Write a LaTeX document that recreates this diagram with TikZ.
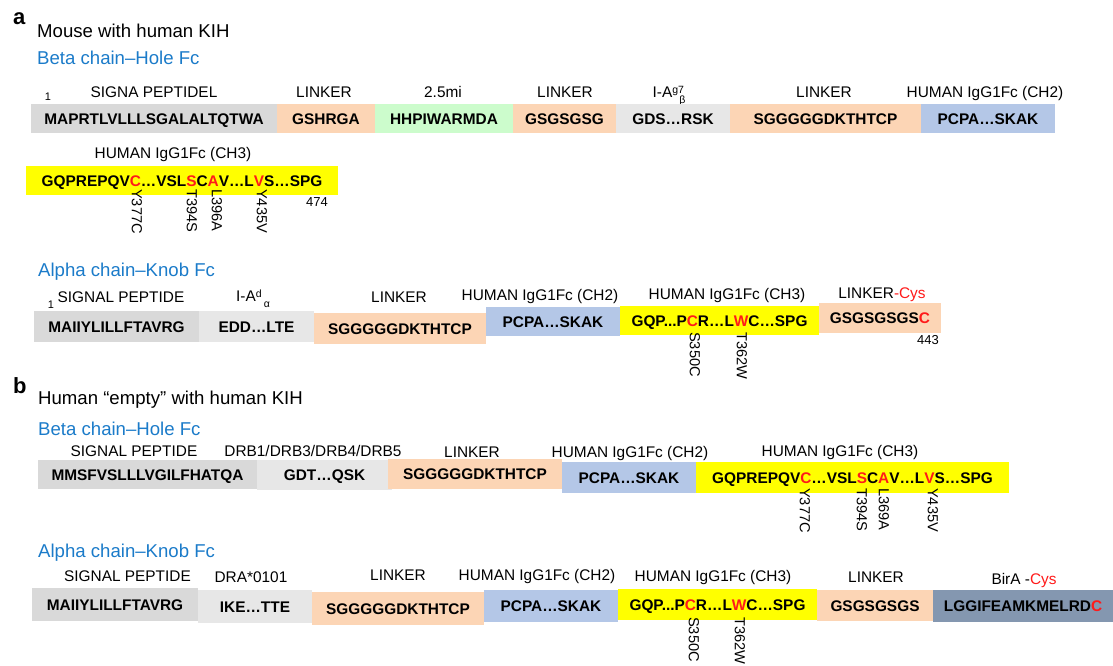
\documentclass[tikz,border=0pt]{standalone}
\usepackage{fontspec}
\setmainfont{Liberation Sans}

\definecolor{sigA}{HTML}{D9D9D9}
\definecolor{sigB}{HTML}{E7E7E7}
\definecolor{peach}{HTML}{FCD5B5}
\definecolor{mint}{HTML}{CCFCCC}
\definecolor{fcblue}{HTML}{B4C7E7}
\definecolor{fcyellow}{HTML}{FFFF00}
\definecolor{slate}{HTML}{8497B0}
\definecolor{titleblue}{HTML}{1B7BC9}
\definecolor{mut}{HTML}{FF1A1A}

\newcommand\segfont{\fontsize{15.4}{18}\selectfont\bfseries}
\newcommand\lblfont{\fontsize{15.4}{18}\selectfont}
\newcommand\ttlfont{\fontsize{18.6}{22}\selectfont}
\newcommand\mutfont{\fontsize{14.6}{17}\selectfont}
\newcommand\numfont{\fontsize{13}{15}\selectfont}
\newcommand\onefont{\fontsize{11}{13}\selectfont}
\newcommand\panelfont{\fontsize{22}{26}\selectfont\bfseries}
\newcommand\rd[1]{\textcolor{mut}{#1}}
% superscript/subscript pair after an allele name; #3 shifts the subscript
\newcommand\supsub[3]{\rlap{\raisebox{4pt}{\fontsize{10.5}{10.5}\selectfont #1}}\raisebox{-6pt}{\hspace{#3}\fontsize{10.5}{10.5}\selectfont #2}}
% one coloured sequence segment: name, colour, x1, x2, top, bottom, text
\newcommand\seg[7]{\node[seg, fill=#2, minimum width={#4-#3}, minimum height={#6-#5}, anchor=north west] (#1) at (#3,#5) {#7};}

\begin{document}
\begin{tikzpicture}[x=1pt,y=-1pt,
  seg/.style={inner sep=0pt, outer sep=0pt, text height=11pt, text depth=0pt, font=\segfont},
  lbl/.style={inner sep=0pt, anchor=base, font=\lblfont},
  ttl/.style={inner sep=0pt, anchor=base west, font=\ttlfont},
  chain/.style={ttl, text=titleblue},
  mutl/.style={inner sep=0pt, rotate=-90, anchor=west, font=\mutfont},
  num/.style={inner sep=0pt, anchor=base, font=\numfont},
  one/.style={inner sep=0pt, anchor=base, font=\onefont},
  panel/.style={inner sep=0pt, anchor=base west, font=\panelfont}]
\useasboundingbox (0,0) rectangle (1113,665);

% ---------- panel a ----------
\node[panel] (pa) at (13,24) {a};
\node[ttl] (ta) at (37,37) {Mouse with human KIH};
\node[chain] (ca1) at (37,64.5) {Beta chain–Hole Fc};

% beta chain, first line
\node[one] (a1one) at (48,100) {1};
\node[lbl] (a1l1) at (154,97) {SIGNA PEPTIDEL};
\node[lbl] (a1l2) at (324,97) {LINKER};
\node[lbl] (a1l3) at (443,97) {2.5mi};
\node[lbl] (a1l4) at (565,97) {LINKER};
\node[lbl] (a1l5) at (669,97) {I-A\supsub{g7}{β}{7pt}};
\node[lbl] (a1l6) at (824,97) {LINKER};
\node[lbl] (a1l7) at (985,97) {HUMAN IgG1Fc (CH2)};

\seg{a1s1}{sigA}{31}{277}{104}{133}{MAPRTLVLLLSGALALTQTWA}
\seg{a1s2}{peach}{277}{375}{104}{133}{GSHRGA}
\seg{a1s3}{mint}{375}{513}{104}{133}{HHPIWARMDA}
\seg{a1s4}{peach}{513}{616}{104}{133}{GSGSGSG}
\seg{a1s5}{sigB}{616}{730}{104}{133}{GDS…RSK}
\seg{a1s6}{peach}{730}{921}{104}{133}{SGGGGGDKTHTCP}
\seg{a1s7}{fcblue}{921}{1055}{104}{133}{PCPA…SKAK}

% beta chain, second line
\node[lbl] (a2l1) at (173,158) {HUMAN IgG1Fc (CH3)};
\seg{a2s1}{fcyellow}{26}{338}{166}{195}{GQPREPQV\rd{C}…VSL\rd{S}C\rd{A}V…L\rd{V}S…SPG}
\node[mutl] (a2m1) at (137,189) {Y377C};
\node[mutl] (a2m2) at (192,189) {T394S};
\node[mutl] (a2m3) at (217,189) {L396A};
\node[mutl] (a2m4) at (262,189) {Y435V};
\node[num] (a2n) at (317,206) {474};

% alpha chain
\node[chain] (ca2) at (38,276) {Alpha chain–Knob Fc};
\node[one] (a3one) at (51,308) {1};
\node[lbl] (a3l1) at (121,302) {SIGNAL PEPTIDE};
\node[lbl] (a3l2) at (253,301) {I-A\supsub{d}{α}{8pt}};
\node[lbl] (a3l3) at (399,302) {LINKER};
\node[lbl] (a3l4) at (540,300) {HUMAN IgG1Fc (CH2)};
\node[lbl] (a3l5) at (727,299) {HUMAN IgG1Fc (CH3)};
\node[lbl] (a3l6) at (882,298) {LINKER\rd{-Cys}};

\seg{a3s1}{sigA}{34}{199}{311}{342}{MAIIYLILLFTAVRG}
\seg{a3s2}{sigB}{199}{314}{311}{342}{EDD…LTE}
\seg{a3s3}{peach}{314}{486}{313}{344}{SGGGGGDKTHTCP}
\seg{a3s4}{fcblue}{486}{620}{307}{336}{PCPA…SKAK}
\seg{a3s5}{fcyellow}{620}{819}{306}{335}{GQP...P\rd{C}R…L\rd{W}C…SPG}
\seg{a3s6}{peach}{819}{941}{303}{333}{GSGSGSGS\rd{C}}
\node[mutl] (a3m1) at (695,332) {S350C};
\node[mutl] (a3m2) at (742,332) {T362W};
\node[num] (a3n) at (928,344) {443};

% ---------- panel b ----------
\node[panel] (pb) at (13,393) {b};
\node[ttl] (tb) at (38,404) {Human “empty” with human KIH};
\node[chain] (cb1) at (38,435) {Beta chain–Hole Fc};

% beta chain
\node[lbl] (b1l1) at (134,456) {SIGNAL PEPTIDE};
\node[lbl] (b1l2) at (313,456) {DRB1/DRB3/DRB4/DRB5};
\node[lbl] (b1l3) at (472,457) {LINKER};
\node[lbl] (b1l4) at (630,457) {HUMAN IgG1Fc (CH2)};
\node[lbl] (b1l5) at (840,456) {HUMAN IgG1Fc (CH3)};

\seg{b1s1}{sigA}{38}{257}{460}{489}{MMSFVSLLLVGILFHATQA}
\seg{b1s2}{sigB}{257}{392}{460}{490}{GDT…QSK}
\seg{b1s3}{peach}{388}{562}{459}{489}{SGGGGGDKTHTCP}
\seg{b1s4}{fcblue}{562}{696}{462}{493}{PCPA…SKAK}
\seg{b1s5}{fcyellow}{696}{1009}{462}{493}{GQPREPQV\rd{C}…VSL\rd{S}C\rd{A}V…L\rd{V}S…SPG}
\node[mutl] (b1m1) at (805,488) {Y377C};
\node[mutl] (b1m2) at (862,488) {T394S};
\node[mutl] (b1m3) at (884,488) {L369A};
\node[mutl] (b1m4) at (933,488) {Y435V};

% alpha chain
\node[chain] (cb2) at (38,557) {Alpha chain–Knob Fc};
\node[lbl] (b2l1) at (127.5,581) {SIGNAL PEPTIDE};
\node[lbl] (b2l2) at (251,582.5) {DRA*0101};
\node[lbl] (b2l3) at (398,580) {LINKER};
\node[lbl] (b2l4) at (537,580) {HUMAN IgG1Fc (CH2)};
\node[lbl] (b2l5) at (713,581) {HUMAN IgG1Fc (CH3)};
\node[lbl] (b2l6) at (876,582) {LINKER};
\node[lbl] (b2l7) at (1024,584) {BirA -\rd{Cys}};

\seg{b2s1}{sigA}{32}{198}{588}{621}{MAIIYLILLFTAVRG}
\seg{b2s2}{sigB}{198}{312}{590}{623}{IKE…TTE}
\seg{b2s3}{peach}{312}{484}{592}{625}{SGGGGGDKTHTCP}
\seg{b2s4}{fcblue}{484}{618}{590}{622}{PCPA…SKAK}
\seg{b2s5}{fcyellow}{618}{817}{589}{620}{GQP...P\rd{C}R…L\rd{W}C…SPG}
\seg{b2s6}{peach}{817}{933}{590}{621}{GSGSGSGS}
\seg{b2s7}{slate}{933}{1113}{590}{622}{LGGIFEAMKMELRD\rd{C}}
\node[mutl] (b2m1) at (694,617) {S350C};
\node[mutl] (b2m2) at (740,617) {T362W};
\end{tikzpicture}
\end{document}
